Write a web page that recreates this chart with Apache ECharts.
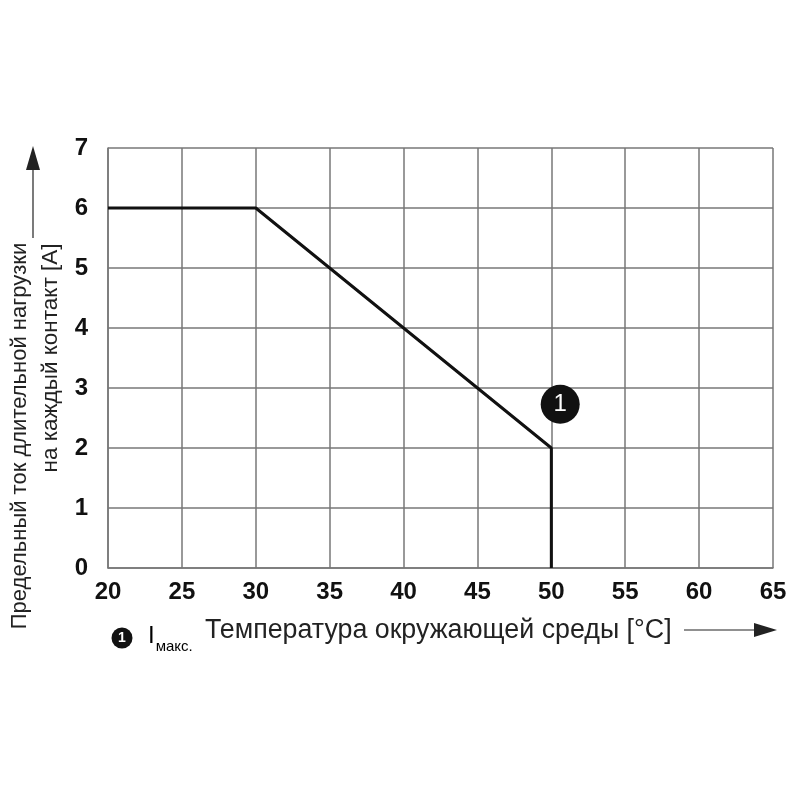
<!DOCTYPE html>
<html>
<head>
<meta charset="utf-8">
<script src="https://cdn.jsdelivr.net/npm/echarts@6/dist/echarts.min.js"></script>
<style>html,body{margin:0;padding:0;background:#fff}#c{width:800px;height:800px}</style>
</head>
<body>
<div id="c"></div>
<script>
var curveX = [20, 30, 50, 50];
var curveY = [6, 6, 2, 0];
var markerPoint = [50.6, 2.73];
var markerLabel = '1';
var xTicks = [20, 25, 30, 35, 40, 45, 50, 55, 60, 65];
var yTicks = [0, 1, 2, 3, 4, 5, 6, 7];
var xTitle = 'Температура окружающей среды [°C]';
var yTitle1 = 'Предельный ток длительной нагрузки';
var yTitle2 = 'на каждый контакт [A]';

var FONT = '"Liberation Sans", Arial, sans-serif';
var chart = echarts.init(document.getElementById('c'));
var lineData = curveX.map(function (x, i) { return [x, curveY[i]]; });
chart.setOption({
  animation: false,
  backgroundColor: '#fff',
  grid: { left: 108, right: 27, top: 148, bottom: 232 },
  xAxis: {
    type: 'value', min: xTicks[0], max: xTicks[xTicks.length - 1], interval: 5,
    axisLine: { show: true, lineStyle: { color: '#777', width: 1.5 } },
    axisTick: { show: false },
    splitLine: { show: true, lineStyle: { color: '#777', width: 1.5 } },
    axisLabel: { margin: 12, color: '#111', fontSize: 24, fontWeight: 'bold', fontFamily: FONT }
  },
  yAxis: {
    type: 'value', min: yTicks[0], max: yTicks[yTicks.length - 1], interval: 1,
    axisLine: { show: true, lineStyle: { color: '#777', width: 1.5 } },
    axisTick: { show: false },
    splitLine: { show: true, lineStyle: { color: '#777', width: 1.5 } },
    axisLabel: { margin: 20, color: '#111', fontSize: 24, fontWeight: 'bold', fontFamily: FONT }
  },
  series: [
    {
      type: 'line', data: lineData, symbol: 'none',
      lineStyle: { color: '#111', width: 3 }, z: 3
    },
    {
      type: 'scatter', data: [markerPoint], symbol: 'circle', symbolSize: 39,
      itemStyle: { color: '#111', opacity: 1 }, z: 4,
      label: { show: true, position: 'inside', formatter: markerLabel, color: '#fff',
        fontSize: 24, fontFamily: FONT }
    }
  ],
  graphic: [
    { type: 'text', x: 205, y: 631, style: { text: xTitle, font: '26.8px ' + FONT, fill: '#222', verticalAlign: 'middle' } },
    { type: 'line', shape: { x1: 684, y1: 630, x2: 760, y2: 630 }, style: { stroke: '#222', lineWidth: 1.2 } },
    { type: 'polygon', shape: { points: [[754, 623], [777, 630], [754, 637]] }, style: { fill: '#222' } },
    { type: 'text', x: 20, y: 436, rotation: Math.PI / 2,
      style: { text: yTitle1, font: '22px ' + FONT, fill: '#222', align: 'center', verticalAlign: 'middle' } },
    { type: 'text', x: 51, y: 358, rotation: Math.PI / 2,
      style: { text: yTitle2, font: '22.5px ' + FONT, fill: '#222', align: 'center', verticalAlign: 'middle' } },
    { type: 'line', shape: { x1: 33, y1: 238, x2: 33, y2: 165 }, style: { stroke: '#222', lineWidth: 1.2 } },
    { type: 'polygon', shape: { points: [[26, 170], [33, 146], [40, 170]] }, style: { fill: '#222' } },
    { type: 'circle', shape: { cx: 122, cy: 638, r: 10.5 }, style: { fill: '#111' } },
    { type: 'text', x: 122, y: 638, style: { text: markerLabel, font: 'bold 14px ' + FONT, fill: '#fff', align: 'center', verticalAlign: 'middle' } },
    { type: 'text', x: 148, y: 636, style: {
        text: '{a|I}{b|макс.}', verticalAlign: 'middle',
        rich: {
          a: { font: '24px ' + FONT, color: '#222' },
          b: { font: '15px ' + FONT, color: '#222', padding: [22, 0, 0, 1] }
        } } }
  ]
});
</script>
</body>
</html>
